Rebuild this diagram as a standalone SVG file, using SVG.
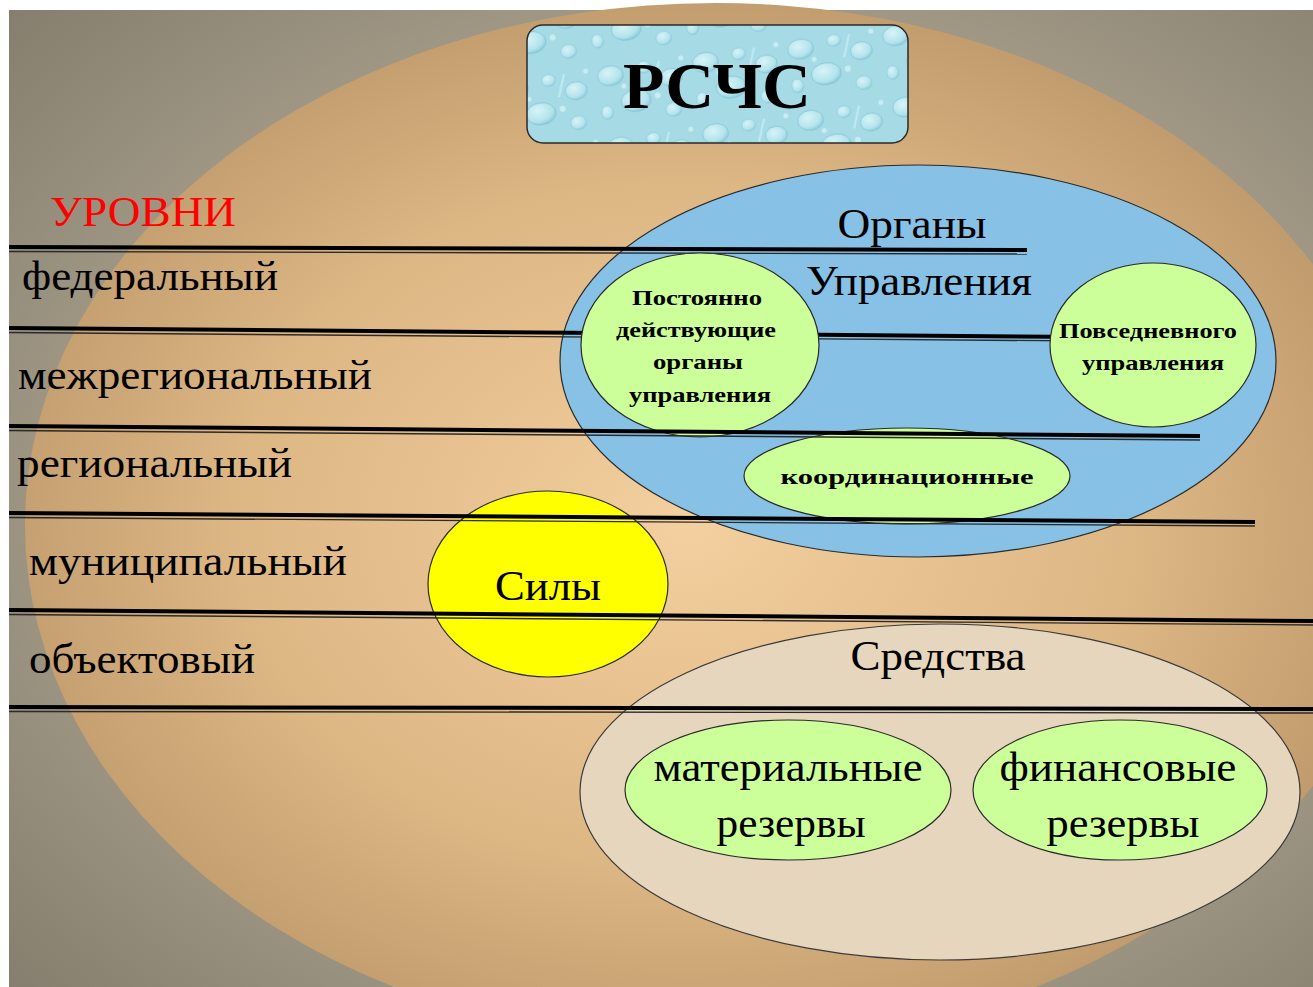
<svg xmlns="http://www.w3.org/2000/svg" width="1313" height="987" viewBox="0 0 1313 987">
<defs>
<radialGradient id="bgGrad" cx="0.55" cy="0.5" r="0.75">
<stop offset="0" stop-color="#b9b19c"/>
<stop offset="0.6" stop-color="#a69e8a"/>
<stop offset="1" stop-color="#857d6d"/>
</radialGradient>
<radialGradient id="tanGrad" cx="0.48" cy="0.5" r="0.6">
<stop offset="0" stop-color="#f4cf9f"/>
<stop offset="0.55" stop-color="#dcb683"/>
<stop offset="1" stop-color="#b48f63"/>
</radialGradient>
<radialGradient id="drop" cx="0.4" cy="0.35" r="0.7">
<stop offset="0" stop-color="#d6f4f8"/>
<stop offset="0.7" stop-color="#b3e3ec"/>
<stop offset="1" stop-color="#86c6d6"/>
</radialGradient>
<pattern id="water" width="96" height="72" patternUnits="userSpaceOnUse" patternTransform="rotate(-8)">
<rect width="96" height="72" fill="#a6dbe6"/>
<ellipse cx="18" cy="16" rx="13" ry="10" fill="url(#drop)" stroke="#84c3d3" stroke-width="0.8"/>
<ellipse cx="52" cy="12" rx="7" ry="6" fill="url(#drop)" stroke="#8cc9d8" stroke-width="0.7"/>
<ellipse cx="78" cy="26" rx="11" ry="9" fill="url(#drop)" stroke="#84c3d3" stroke-width="0.8"/>
<ellipse cx="40" cy="44" rx="15" ry="11" fill="url(#drop)" stroke="#7fbfd0" stroke-width="0.8"/>
<ellipse cx="10" cy="52" rx="6" ry="7" fill="url(#drop)" stroke="#8cc9d8" stroke-width="0.7"/>
<ellipse cx="76" cy="58" rx="8" ry="7" fill="url(#drop)" stroke="#8cc9d8" stroke-width="0.7"/>
<circle cx="62" cy="42" r="3" fill="#c8eef4"/>
<circle cx="30" cy="28" r="2.5" fill="#c8eef4"/>
<circle cx="90" cy="8" r="2.5" fill="#c8eef4"/>
<path d="M60 30 l8 -22" stroke="#c9eef5" stroke-width="2" opacity="0.8"/>
</pattern>
<style>
.lvl{font-family:"Liberation Serif","Times New Roman",serif;font-size:42px;fill:#000}
.big{font-family:"Liberation Serif","Times New Roman",serif;font-size:43px;fill:#000;text-anchor:middle}
.nb{font-family:"Liberation Serif","Times New Roman",serif;font-size:21px;font-weight:bold;fill:#000;text-anchor:middle}
.green{fill:#ccff99;stroke:#2a2a2a;stroke-width:1.2}
.thick{stroke:#000;stroke-width:4}
.thin{stroke:#2b2b2b;stroke-width:1.4}
</style>
</defs>

<rect x="0" y="0" width="1313" height="987" fill="#ffffff"/>
<rect x="9" y="10" width="1304" height="977" fill="url(#bgGrad)"/>
<ellipse cx="715" cy="525" rx="690" ry="522" fill="url(#tanGrad)"/>

<g id="title">
<rect x="527" y="25" width="381" height="118" rx="16" fill="url(#water)" stroke="#2a2a2a" stroke-width="1.5"/>
<text x="717" y="108" font-family="Liberation Serif, Times New Roman, serif" font-size="66" font-weight="bold" text-anchor="middle" textLength="188" lengthAdjust="spacingAndGlyphs">РСЧС</text>
</g>

<g id="organy">
<ellipse cx="918" cy="361" rx="358" ry="196" fill="#87c1e5" stroke="#2a2a2a" stroke-width="1.2"/>
<text class="big" x="912" y="238" textLength="149" lengthAdjust="spacingAndGlyphs">Органы</text>
<text class="big" x="919" y="295" textLength="226" lengthAdjust="spacingAndGlyphs">Управления</text>
</g>

<g id="sredstva">
<ellipse cx="940" cy="792" rx="360" ry="168" fill="#e6d6bd" stroke="#3a3a3a" stroke-width="1.2"/>
<text class="big" x="938" y="670" textLength="175" lengthAdjust="spacingAndGlyphs">Средства</text>
</g>

<g id="sily">
<ellipse cx="548" cy="584" rx="120" ry="93" fill="#ffff00" stroke="#2a2a2a" stroke-width="1.2"/>
<text class="big" x="548" y="600" textLength="106" lengthAdjust="spacingAndGlyphs">Силы</text>
</g>

<g id="koord">
<ellipse cx="907" cy="476" rx="163" ry="48" class="green"/>
<text class="nb" x="907" y="484" font-size="23" textLength="253" lengthAdjust="spacingAndGlyphs">координационные</text>
</g>

<g id="levels">
<text class="lvl" x="50" y="226" style="fill:#ff0000" textLength="186" lengthAdjust="spacingAndGlyphs">УРОВНИ</text>
<text class="lvl" x="22" y="290" textLength="256" lengthAdjust="spacingAndGlyphs">федеральный</text>
<text class="lvl" x="18" y="389" textLength="354" lengthAdjust="spacingAndGlyphs">межрегиональный</text>
<text class="lvl" x="17" y="477" textLength="275" lengthAdjust="spacingAndGlyphs">региональный</text>
<text class="lvl" x="29" y="575" textLength="318" lengthAdjust="spacingAndGlyphs">муниципальный</text>
<text class="lvl" x="29" y="673" textLength="226" lengthAdjust="spacingAndGlyphs">объектовый</text>
</g>

<g id="connectors">
<g id="line1">
<line class="thick" x1="9" y1="247" x2="1027" y2="250"/>
<line class="thin" x1="9" y1="251.5" x2="1027" y2="254"/>
</g>
<g id="line2">
<line class="thick" x1="9" y1="328" x2="1090" y2="337"/>
<line class="thin" x1="9" y1="332.5" x2="1090" y2="341"/>
</g>
</g>

<g id="postoyanno">
<ellipse cx="700" cy="345" rx="119" ry="92" class="green"/>
<text class="nb" x="697" y="305" textLength="130" lengthAdjust="spacingAndGlyphs">Постоянно</text>
<text class="nb" x="696" y="337" textLength="160" lengthAdjust="spacingAndGlyphs">действующие</text>
<text class="nb" x="698" y="369" textLength="90" lengthAdjust="spacingAndGlyphs">органы</text>
<text class="nb" x="700" y="402" textLength="142" lengthAdjust="spacingAndGlyphs">управления</text>
</g>

<g id="povsednevnogo">
<ellipse cx="1153" cy="345" rx="103" ry="82" class="green"/>
<text class="nb" x="1148" y="338" textLength="178" lengthAdjust="spacingAndGlyphs">Повседневного</text>
<text class="nb" x="1153" y="370" textLength="142" lengthAdjust="spacingAndGlyphs">управления</text>
</g>

<g id="connectors2">
<g id="line3">
<line class="thick" x1="9" y1="426" x2="1200" y2="436"/>
<line class="thin" x1="9" y1="430.5" x2="1200" y2="440"/>
</g>
<g id="line4">
<line class="thick" x1="9" y1="513" x2="1255" y2="522"/>
<line class="thin" x1="9" y1="517.5" x2="1255" y2="526"/>
</g>
<g id="line5">
<line class="thick" x1="9" y1="610" x2="1313" y2="621"/>
<line class="thin" x1="9" y1="614.5" x2="1313" y2="625"/>
</g>
<g id="line6">
<line class="thick" x1="9" y1="707" x2="1313" y2="709"/>
<line class="thin" x1="9" y1="711.5" x2="1313" y2="713"/>
</g>
</g>

<g id="materialnye">
<ellipse cx="788" cy="790" rx="163" ry="70" class="green"/>
<text class="big" x="788" y="781" textLength="269" lengthAdjust="spacingAndGlyphs">материальные</text>
<text class="big" x="791" y="837" textLength="149" lengthAdjust="spacingAndGlyphs">резервы</text>
</g>

<g id="finansovye">
<ellipse cx="1120" cy="790" rx="147" ry="70" class="green"/>
<text class="big" x="1118" y="781" textLength="237" lengthAdjust="spacingAndGlyphs">финансовые</text>
<text class="big" x="1123" y="837" textLength="153" lengthAdjust="spacingAndGlyphs">резервы</text>
</g>
</svg>
